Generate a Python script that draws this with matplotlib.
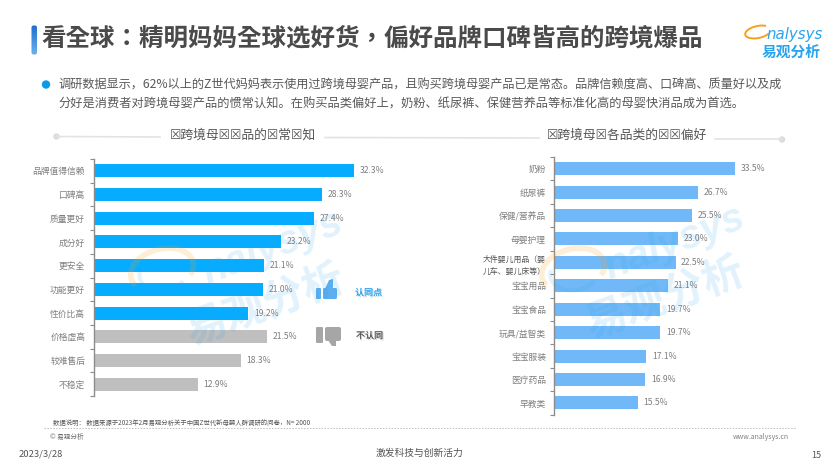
import matplotlib
matplotlib.use('Agg')
import numpy as np
import matplotlib.pyplot as plt
import matplotlib.patheffects as pe
from matplotlib.patches import Arc, Circle, FancyBboxPatch, Polygon

plt.rcParams['font.family'] = ['Noto Sans CJK SC', 'DejaVu Sans']

W, H = 840, 473

# left chart
left_labels = ['品牌值得信赖', '口碑高', '质量更好', '成分好', '更安全', '功能更好', '性价比高',
               '价格虚高', '较难售后', '不稳定']
left_values = [32.3, 28.3, 27.4, 23.2, 21.1, 21.0, 19.2, 21.5, 18.3, 12.9]
left_agree = [True, True, True, True, True, True, True, False, False, False]

# right chart
right_labels = ['奶粉', '纸尿裤', '保健/营养品', '母婴护理', '大件婴儿用品（婴\n儿车、婴儿床等）', '宝宝用品',
                '宝宝食品', '玩具/益智类', '宝宝服装', '医疗药品', '早教类']
right_values = [33.5, 26.7, 25.5, 23.0, 22.5, 21.1, 19.7, 19.7, 17.1, 16.9, 15.5]

title = '看全球：精明妈妈全球选好货，偏好品牌口碑皆高的跨境爆品'
body_line1 = '调研数据显示，62%以上的Z世代妈妈表示使用过跨境母婴产品，且购买跨境母婴产品已是常态。品牌信赖度高、口碑高、质量好以及成'
body_line2 = '分好是消费者对跨境母婴产品的惯常认知。在购买品类偏好上，奶粉、纸尿裤、保健营养品等标准化高的母婴快消品成为首选。'
left_heading = '☒跨境母☒☒品的☒常☒知'
right_heading = '☒跨境母☒各品类的☒☒偏好'
note = '数据说明： 数据来源于2023年2月易观分析关于中国Z世代新母婴人群调研的问卷，N= 2000'

GRAY = '#7f7f7f'


def bar_axes(fig, x0, top, bottom, px_per_unit, width):
    ax = fig.add_axes([x0 / W, 1 - bottom / H, width / W, (bottom - top) / H])
    ax.set_xlim(0, width / px_per_unit)
    ax.patch.set_alpha(0)
    for side in ['top', 'right', 'bottom']:
        ax.spines[side].set_visible(False)
    ax.spines['left'].set_color('#8c8c8c')
    ax.spines['left'].set_linewidth(1)
    ax.set_xticks([])
    return ax


def draw_bars(ax, labels, values, colors, bar_px, px_h):
    pos = np.arange(len(labels))
    ax.barh(pos, values, height=bar_px * len(labels) / px_h, color=colors)
    ax.set_ylim(len(labels) - 0.5, -0.5)
    ax.set_yticks(pos)
    ax.set_yticklabels(labels, fontsize=6.3, color=GRAY)
    ax.tick_params(axis='y', which='major', length=0, pad=6)
    ax.set_yticks(np.arange(len(labels) + 1) - 0.5, minor=True)
    ax.tick_params(axis='y', which='minor', length=3, width=0.8, color='#8c8c8c')
    for p, v in zip(pos, values):
        ax.annotate(f'{v}%', (v, p), xytext=(4, 0), textcoords='offset points',
                    va='center', fontsize=6.2, color=GRAY)


fig = plt.figure(figsize=(W / 100, H / 100), dpi=100, facecolor='white')

# pixel overlay for the slide furniture
bg = fig.add_axes([0, 0, 1, 1], zorder=0)
bg.set_xlim(0, W)
bg.set_ylim(H, 0)
bg.axis('off')

# title accent bar with gradient
grad = np.linspace(0, 1, 64).reshape(-1, 1)
accent = FancyBboxPatch((31.5, 25.5), 5.5, 29, boxstyle='round,pad=0,rounding_size=2',
                        facecolor='none', edgecolor='none')
bg.add_patch(accent)
im = bg.imshow(grad, extent=(31, 37.5, 55, 25), cmap=matplotlib.colors.LinearSegmentedColormap.from_list(
    'accent', ['#1a6fd0', '#6db2ee']), aspect='auto', zorder=2)
im.set_clip_path(accent)
bg.set_xlim(0, W)
bg.set_ylim(H, 0)

bg.text(41, 38, title, fontsize=17.65, fontweight='bold', color='#4a4a4a', va='center', ha='left',
        family=['Noto Sans CJK TC', 'DejaVu Sans'])

bg.add_patch(Circle((46, 84.5), 3.5, color='#0a9be8'))
bg.text(58, 85, body_line1, fontsize=8.77, color='#595959', va='center')
bg.text(58, 104, body_line2, fontsize=8.8, color='#595959', va='center')

# section headings
bg.plot([56, 160], [136.5, 137], color='#e3e3e3', lw=1.2)
bg.plot([325, 539], [137.5, 138], color='#e3e3e3', lw=1.2)
bg.plot([715, 782], [139, 139], color='#e3e3e3', lw=1.2)
bg.add_patch(Circle((56.5, 136.5), 2.5, color='#dcdcdc'))
bg.add_patch(Circle((782, 139.5), 2.5, color='#dcdcdc'))
bg.text(242.5, 135.5, left_heading, fontsize=9.2, color='#555555', ha='center', va='center')
bg.text(627, 135.5, right_heading, fontsize=9.2, color='#555555', ha='center', va='center')

# footer
bg.plot([44, 795], [428, 428], color='#bdbdbd', lw=0.7, ls=(0, (1.5, 1.5)))
bg.text(53, 422.5, note, fontsize=4.6, color='#555555', va='center')
bg.text(50, 437, '© 易观分析', fontsize=4.8, color='#6a6a6a', va='center')
bg.text(733, 437, 'www.analysys.cn', fontsize=5, color='#808080', va='center')
bg.text(19, 454, '2023/3/28', fontsize=6.8, color='#555555', va='center')
bg.text(376, 453, '激发科技与创新活力', fontsize=7, color='#555555', va='center')
bg.text(811, 455, '15', fontsize=6.5, color='#555555', va='center')

# top right logo
bg.add_patch(Arc((758, 32), 26, 12, angle=-12, theta1=20, theta2=335, color='#f7a11a', lw=1.4))
bg.text(766, 34, 'nalysys', fontsize=10.8, style='italic', color='#29a3ef', va='center',
        family='DejaVu Sans')
bg.text(791, 52, '易观分析', fontsize=10.6, fontweight='bold', color='#29a3ef', ha='center', va='center')

# charts
ax_left = bar_axes(fig, 93.5, 159, 396, 8.065, 280)
draw_bars(ax_left, left_labels, left_values,
          ['#06acff' if a else '#bfbfbf' for a in left_agree], 13, 396 - 159)

ax_right = bar_axes(fig, 554.3, 157, 414.7, 5.39, 220)
draw_bars(ax_right, right_labels, right_values, '#70b8f7', 13, 414.7 - 157)
# the long label is set smaller and darker in the slide
long_label = ax_right.get_yticklabels()[4]
long_label.set_fontsize(5.7)
long_label.set_color('#555555')
long_label.set_linespacing(1.7)

# top layer: thumbs, legend words and watermark
top = fig.add_axes([0, 0, 1, 1], zorder=5)
top.set_xlim(0, W)
top.set_ylim(H, 0)
top.axis('off')

BLUE_T = '#5baef0'
GRAY_T = '#a6a6a6'
top.add_patch(FancyBboxPatch((316, 288), 5, 11, boxstyle='round,pad=0,rounding_size=1', fc=BLUE_T, ec='none'))
top.add_patch(FancyBboxPatch((323, 288), 14, 11, boxstyle='round,pad=0,rounding_size=1.5', fc=BLUE_T, ec='none'))
top.add_patch(Polygon([(325, 289), (329, 280), (333, 279), (333, 289)], fc=BLUE_T, ec='none'))
top.add_patch(FancyBboxPatch((316, 327), 7, 16, boxstyle='round,pad=0,rounding_size=1', fc=GRAY_T, ec='none'))
top.add_patch(FancyBboxPatch((325, 327), 16, 14, boxstyle='round,pad=0,rounding_size=2', fc=GRAY_T, ec='none'))
top.add_patch(Polygon([(328, 340), (332, 346), (336, 346), (336, 340)], fc=GRAY_T, ec='none'))

shadow = [pe.withSimplePatchShadow(offset=(0.8, -0.8), alpha=0.25), pe.Normal()]
top.text(368.5, 293, '认同点', fontsize=6.5, color='#29a3ef', ha='center', va='center',
         path_effects=shadow)
top.text(369.5, 336, '不认同', fontsize=6.5, color='#555555', ha='center', va='center',
         path_effects=shadow)

# watermarks
for mark_x, mark_y, arc_x, cn_x, cn_y in [(272, 248, 162, 265, 305), (674, 243, 573, 665, 298)]:
    top.text(mark_x, mark_y, 'nalysys', fontsize=29, style='italic', fontweight='bold', color='#29a3ef',
             alpha=0.14, rotation=21, ha='center', va='center', family='Liberation Sans')
    top.text(cn_x, cn_y, '易观分析', fontsize=30, fontweight='bold', color='#29a3ef',
             alpha=0.14, rotation=20, ha='center', va='center')
    top.add_patch(Arc((arc_x, 270), 64, 42, angle=-15, theta1=165, theta2=385,
                      color='#f7a11a', lw=4, alpha=0.18))
    top.add_patch(Arc((arc_x + 2, 272), 50, 36, angle=-15, theta1=40, theta2=200,
                      color='#29a3ef', lw=3, alpha=0.13))

fig.savefig('out.png', dpi=100)
